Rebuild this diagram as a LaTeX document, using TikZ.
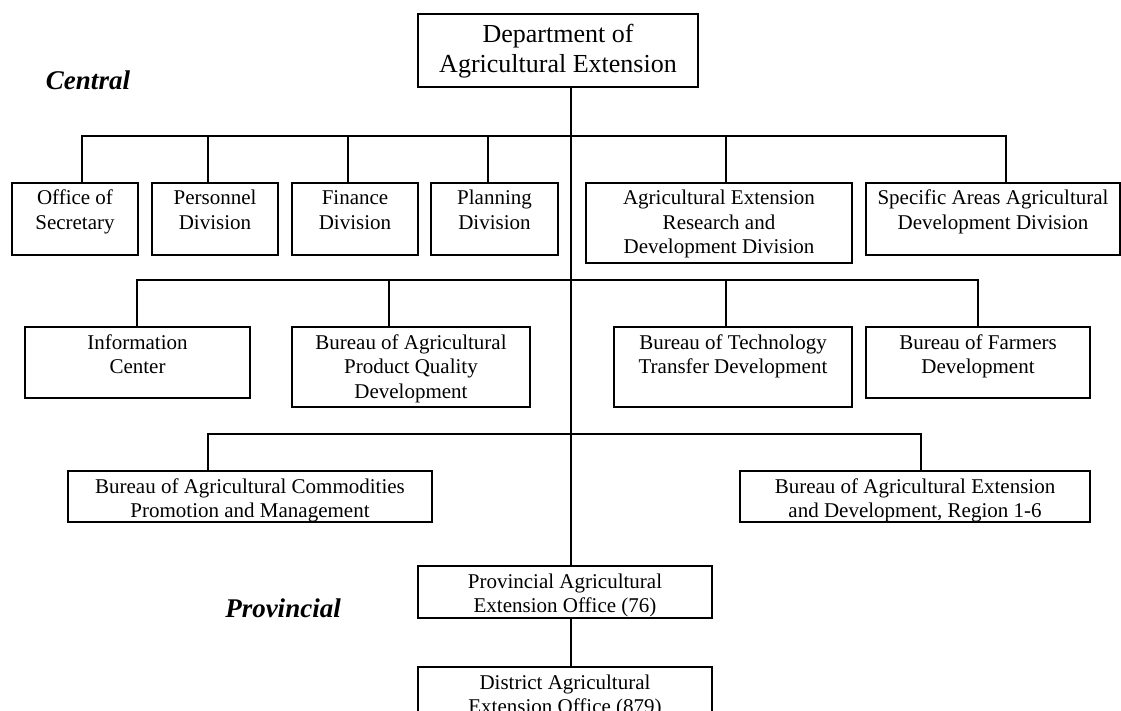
\documentclass[tikz,border=0pt]{standalone}
\usepackage{fontspec}
\setmainfont{Liberation Serif}
\newcommand\obox[8][]{%
  \node[obox,#1,anchor=north west] (#2) at (#3,#4)
    {\parbox[c][#6pt][t]{#5pt}{\centering\rule{0pt}{#7pt}#8}};}
\begin{document}
\begin{tikzpicture}[x=1pt,y=-1pt,
  obox/.style={draw, line width=1.8pt, inner sep=0pt, outer sep=0pt,
    font=\fontsize{21}{24.5}\selectfont},
  link/.style={line width=1.8pt},
  lvl/.style={font=\fontsize{27}{30}\selectfont\bfseries\itshape,
    inner sep=0pt, anchor=base}]
\clip (0,0) rectangle (1121,711);
\fill[white] (0,0) rectangle (1121,711);

% top
\obox[font=\fontsize{26}{30}\selectfont]{dept}{418}{14}{280}{73}{29}{Department of\\Agricultural Extension}
\node[lvl] (central) at (88,90) {Central};

% row 1
\obox{office}{12}{183}{126}{72}{22}{Office of\\Secretary}
\obox{personnel}{152}{183}{126}{72}{22}{Personnel\\Division}
\obox{finance}{292}{183}{126}{72}{22}{Finance\\Division}
\obox{planning}{431}{183}{127}{72}{22}{Planning\\Division}
\obox{aerd}{586}{183}{266}{80}{22}{Agricultural Extension\\Research and\\Development Division}
\obox{specific}{866}{183}{254}{72}{22}{Specific Areas Agricultural\\Development Division}

% row 2
\obox{info}{25}{327}{225}{71}{22}{Information\\Center}
\obox{quality}{292}{327}{238}{80}{22}{Bureau of Agricultural\\Product Quality\\Development}
\obox{tech}{614}{327}{238}{80}{22}{Bureau of Technology\\Transfer Development}
\obox{farmers}{866}{327}{224}{71}{22}{Bureau of Farmers\\Development}

% row 3
\obox{commod}{68}{471}{364}{51}{22}{Bureau of Agricultural Commodities\\Promotion and Management}
\obox{region}{740}{471}{350}{51}{22}{Bureau of Agricultural Extension\\and Development, Region 1-6}

% provincial
\obox{prov}{418}{566}{294}{52}{22}{Provincial Agricultural\\Extension Office (76)}
\obox{district}{418}{667}{294}{60}{22}{District Agricultural\\Extension Office (879)}
\node[lvl] (provlabel) at (283,617) {Provincial};

% spine
\coordinate (spine) at (571,0);
\draw[link] (dept.south -| spine) -- (prov.north -| spine);
\draw[link] (prov.south -| spine) -- (district.north -| spine);

% bus 1
\coordinate (a1) at (82,136);
\coordinate (a2) at (208,136);
\coordinate (a3) at (348,136);
\coordinate (a4) at (488,136);
\coordinate (a5) at (726,136);
\coordinate (a6) at (1006,136);
\draw[link] (a1 |- office.north) -- (a1) -- (a6) -- (a6 |- specific.north);
\draw[link] (a2) -- (a2 |- personnel.north);
\draw[link] (a3) -- (a3 |- finance.north);
\draw[link] (a4) -- (a4 |- planning.north);
\draw[link] (a5) -- (a5 |- aerd.north);

% bus 2
\coordinate (b1) at (137,280);
\coordinate (b2) at (389,280);
\coordinate (b3) at (726,280);
\coordinate (b4) at (978,280);
\draw[link] (b1 |- info.north) -- (b1) -- (b4) -- (b4 |- farmers.north);
\draw[link] (b2) -- (b2 |- quality.north);
\draw[link] (b3) -- (b3 |- tech.north);

% bus 3
\coordinate (c1) at (208,434);
\coordinate (c2) at (921,434);
\draw[link] (c1 |- commod.north) -- (c1) -- (c2) -- (c2 |- region.north);
\end{tikzpicture}
\end{document}
